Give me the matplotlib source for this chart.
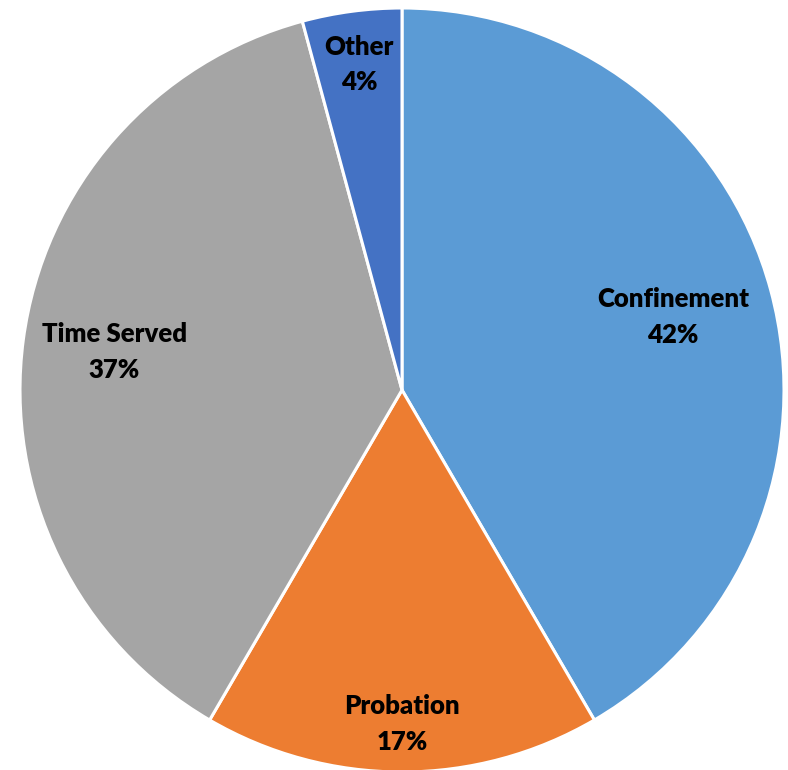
import numpy as np
import matplotlib.pyplot as plt

# slice data, clockwise from the top
categories = ["Confinement", "Probation", "Time Served", "Other"]
values = [41.6, 16.8, 37.4, 4.2]
pct_labels = ["42%", "17%", "37%", "4%"]
colors = ["#5B9BD5", "#ED7D31", "#A5A5A5", "#4472C4"]

fig = plt.figure(figsize=(7.88, 7.70), dpi=100)
ax = fig.add_axes([0, 0, 1, 1])

wedges, _ = ax.pie(values, colors=colors, startangle=90, counterclock=False,
                   radius=1.0, wedgeprops=dict(edgecolor="white", linewidth=2.2))

# label distance (fraction of radius) per slice
label_r = [0.735, 0.875, 0.76, 0.86]
for w, cat, pct, r in zip(wedges, categories, pct_labels, label_r):
    mid = np.deg2rad((w.theta1 + w.theta2) / 2)
    ax.text(r * np.cos(mid), r * np.sin(mid), cat + "\n" + pct,
            ha="center", va="center", fontsize=18.5, fontweight="heavy",
            family="Lato", linespacing=1.58, color="black")

ax.set_xlim(-402 / 382, 386 / 382)
ax.set_ylim(-380 / 382, 390 / 382)
ax.set_aspect("equal")
ax.axis("off")

fig.savefig("out.png", dpi=100, facecolor="white")
